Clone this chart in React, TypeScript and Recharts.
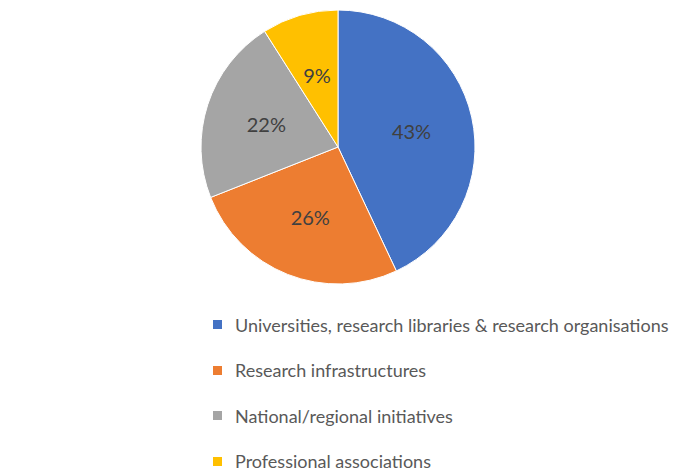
import React from 'react';
import { PieChart, Pie, Cell, Legend } from 'recharts';

const categories = [
  'Universities, research libraries & research organisations',
  'Research infrastructures',
  'National/regional initiatives',
  'Professional associations',
];
const shares = [43, 26, 22, 9];
const colors = ['#4472C4', '#ED7D31', '#A5A5A5', '#FFC000'];

const data = categories.map((name, i) => ({ name, value: shares[i] }));

const RADIAN = Math.PI / 180;
const FONT = 'Lato, "Open Sans", sans-serif';

const renderLabel = (props: any) => {
  const { cx, cy, midAngle, outerRadius, value } = props;
  const r = outerRadius * 0.55;
  const x = cx + r * Math.cos(-midAngle * RADIAN);
  const y = cy + r * Math.sin(-midAngle * RADIAN);
  return (
    <text
      x={x}
      y={y}
      fill="#404040"
      textAnchor="middle"
      dominantBaseline="central"
      fontSize={20}
      fontFamily={FONT}
    >
      {`${value}%`}
    </text>
  );
};

const renderLegend = () => (
  <div style={{ fontFamily: FONT, fontSize: 18, color: '#595959' }}>
    {data.map((d, i) => (
      <div key={d.name} style={{ display: 'flex', alignItems: 'center', height: 45.5 }}>
        <span
          style={{
            display: 'inline-block',
            width: 9,
            height: 9,
            background: colors[i],
            marginRight: 13,
          }}
        />
        <span>{d.name}</span>
      </div>
    ))}
  </div>
);

export default function App() {
  return (
    <div style={{ position: 'absolute', left: 0, top: 0, width: 673, height: 475, background: '#fff' }}>
      <PieChart width={673} height={475} margin={{ top: 0, right: 0, bottom: 0, left: 0 }}>
        <Pie
          data={data}
          dataKey="value"
          nameKey="name"
          cx={338}
          cy={147}
          outerRadius={137}
          startAngle={90}
          endAngle={-270}
          stroke="#fff"
          strokeWidth={1}
          label={renderLabel}
          labelLine={false}
          isAnimationActive={false}
        >
          {data.map((d, i) => (
            <Cell key={d.name} fill={colors[i]} />
          ))}
        </Pie>
        <Legend
          content={renderLegend}
          layout="horizontal"
          verticalAlign="bottom"
          align="left"
          wrapperStyle={{ left: 213, top: 302, bottom: 'auto', width: 460 }}
        />
      </PieChart>
    </div>
  );
}
